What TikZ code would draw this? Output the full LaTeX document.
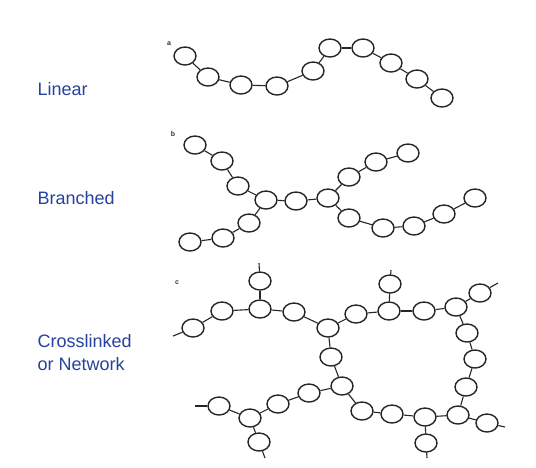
\documentclass[tikz,border=0pt]{standalone}
\usepackage{fontspec}
\setmainfont{Liberation Sans}
\usepackage{tikz}
\usetikzlibrary{shapes.geometric}

\definecolor{labelblue}{RGB}{38,66,158}

\begin{document}
\begin{tikzpicture}[
        x=1pt,
        y=-1pt,
        mono/.style={ellipse, draw=black!85, line width=1.4pt, fill=white, minimum width=22pt, minimum height=18pt, inner sep=0pt},
        bond/.style={draw=black!85, line width=1.1pt},
        kind/.style={anchor=west, align=left, text=labelblue, font=\fontsize{18}{23}\selectfont},
        tag/.style={font=\fontsize{7}{8}\selectfont\bfseries, text=black!80}
    ]
        \useasboundingbox[fill=white] (0,0) rectangle (536,467);

        % Left-hand labels.
        \node[kind] (linear) at (34,89) {Linear};
        \node[kind] (branched) at (34,198) {Branched};
        \node[kind] (network) at (34,353) {Crosslinked\\or Network};

        % a: linear chain.
        \node[tag] (taga) at (169,44) {a};
        \foreach \n/\x/\y in {a1/185/56,a2/208/77,a3/241/85,a4/277/86,a5/313/71,a6/330/48,a7/363/48,a8/391/63,a9/417/79,a10/442/98} {
            \node[mono] (\n) at (\x,\y) {};
        }
        \foreach \p/\q in {a1/a2,a2/a3,a3/a4,a4/a5,a5/a6,a6/a7,a7/a8,a8/a9,a9/a10} {
            \draw[bond] (\p) -- (\q);
        }

        % b: branched chain.
        \node[tag] (tagb) at (173,134) {b};
        \foreach \n/\x/\y in {b1/195/145,b2/222/161,b3/238/186,bA/266/200,bM/296/201,bB/328/198,
                b4/249/223,b5/223/238,b6/190/242,b7/349/177,b8/376/162,b9/408/153,
                b10/349/218,b11/383/228,b12/414/226,b13/444/214,b14/475/198} {
            \node[mono] (\n) at (\x,\y) {};
        }
        \foreach \p/\q in {b1/b2,b2/b3,b3/bA,bA/bM,bM/bB,bA/b4,b4/b5,b5/b6,
                bB/b7,b7/b8,b8/b9,bB/b10,b10/b11,b11/b12,b12/b13,b13/b14} {
            \draw[bond] (\p) -- (\q);
        }

        % c: crosslinked network.
        \node[tag] (tagc) at (177,283) {c};
        \foreach \n/\x/\y in {c1/193/328,c2/222/311,c3/260/309,c4/260/281,c5/294/312,c6/328/328,
                c7/356/314,c8/389/311,c9/390/284,c10/424/311,c11/456/307,c12/480/293,
                c13/467/333,c14/475/359,c15/466/387,c16/458/415,c17/487/423,c18/425/417,
                c19/426/443,c20/392/414,c21/362/411,c22/342/386,c23/331/357,c24/309/393,
                c25/278/404,c26/250/418,c27/259/442,c28/219/406} {
            \node[mono] (\n) at (\x,\y) {};
        }
        \foreach \n/\x/\y in {s1/173/336,s2/259/263,s3/391/270,s4/498/283,s5/505/427,s6/427/458,s7/265/458,s8/195/406} {
            \coordinate (\n) at (\x,\y);
        }
        \foreach \p/\q in {c1/c2,c2/c3,c3/c4,c3/c5,c5/c6,c6/c7,c7/c8,c8/c9,c8/c10,c10/c11,c11/c12,
                c11/c13,c13/c14,c14/c15,c15/c16,c16/c17,c16/c18,c18/c19,c18/c20,c20/c21,c21/c22,
                c6/c23,c23/c22,c22/c24,c24/c25,c25/c26,c26/c27,c26/c28,
                c1/s1,c4/s2,c9/s3,c12/s4,c17/s5,c19/s6,c27/s7,c28/s8} {
            \draw[bond] (\p) -- (\q);
        }
    \end{tikzpicture}
\end{document}
